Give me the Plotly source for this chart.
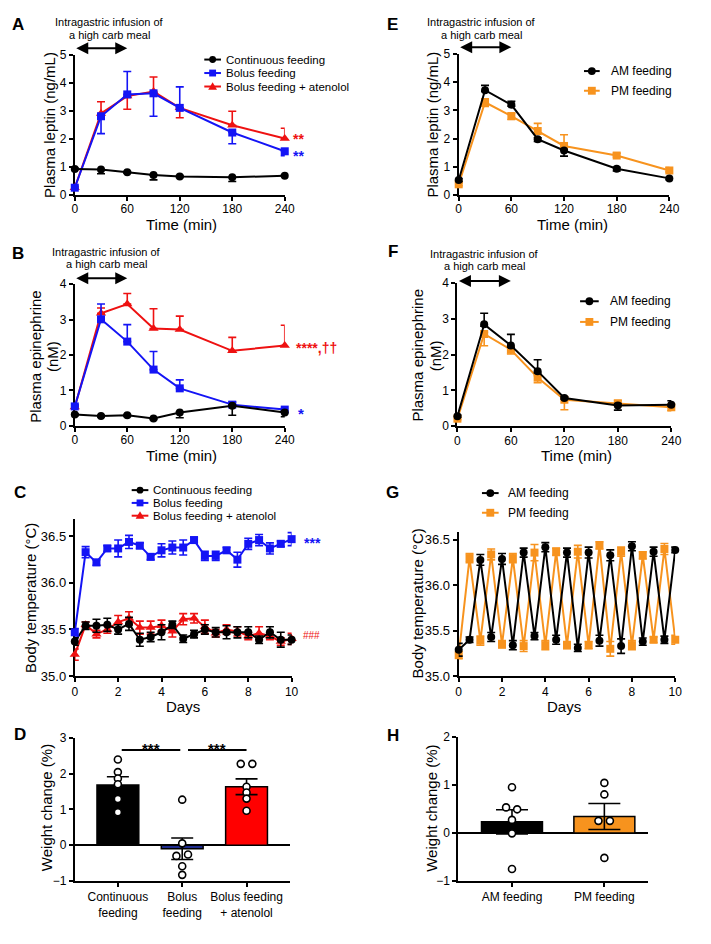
import plotly.graph_objects as go

# The page body keeps the browser's 8px margin; the figure sits at (8, 8) and is a bit
# smaller than the window so that the page never overflows.
OFF = 8
FW, FH = 690, 920
FONT = "Arial, Liberation Sans, Helvetica, sans-serif"
RED = '#EE1111'
BLUE = '#1414F5'
NAVY = '#1F2C8F'
ORANGE = '#F7931E'
BLACK = '#000000'

# ---------------- data ----------------
minutes = [0, 30, 60, 90, 120, 180, 240]

A_cont = [0.92, 0.90, 0.80, 0.70, 0.65, 0.62, 0.68]
A_cont_up = [0.03, 0.0, 0.03, 0.0, 0.03, 0.0, 0.03]
A_cont_dn = [0.03, 0.15, 0.03, 0.17, 0.03, 0.15, 0.03]
A_bolus = [0.25, 2.80, 3.58, 3.62, 3.10, 2.22, 1.55]
A_bolus_up = [0.05, 0.0, 0.82, 0.0, 0.75, 0.0, 0.0]
A_bolus_dn = [0.05, 0.62, 0.0, 0.82, 0.0, 0.40, 0.16]
A_aten = [0.25, 2.90, 3.52, 3.68, 3.10, 2.48, 2.01]
A_aten_up = [0.0, 0.42, 0.0, 0.52, 0.0, 0.50, 0.36]
A_aten_dn = [0.0, 0.0, 0.47, 0.0, 0.35, 0.0, 0.0]

B_cont = [0.32, 0.28, 0.30, 0.21, 0.38, 0.57, 0.38]
B_cont_up = [0.02, 0.02, 0.02, 0.02, 0.02, 0.02, 0.05]
B_cont_dn = [0.03, 0.03, 0.03, 0.03, 0.15, 0.27, 0.12]
B_bolus = [0.55, 3.01, 2.38, 1.59, 1.06, 0.60, 0.46]
B_bolus_up = [0.05, 0.43, 0.48, 0.51, 0.24, 0.07, 0.04]
B_bolus_dn = [0.0, 0.0, 0.0, 0.0, 0.0, 0.0, 0.0]
B_aten = [0.53, 3.18, 3.44, 2.75, 2.72, 2.12, 2.27]
B_aten_up = [0.05, 0.15, 0.30, 0.56, 0.38, 0.38, 0.57]
B_aten_dn = [0.0, 0.0, 0.0, 0.0, 0.0, 0.0, 0.0]

days = [0, 0.5, 1, 1.5, 2, 2.5, 3, 3.5, 4, 4.5, 5, 5.5, 6, 6.5, 7, 7.5, 8, 8.5, 9, 9.5, 10]
C_cont = [35.37, 35.54, 35.54, 35.55, 35.50, 35.56, 35.39, 35.42, 35.47, 35.55, 35.40,
          35.45, 35.50, 35.47, 35.47, 35.47, 35.47, 35.39, 35.47, 35.39, 35.39]
C_cont_err = [0.04, 0.04, 0.07, 0.07, 0.05, 0.07, 0.07, 0.05, 0.08, 0.04, 0.04,
              0.04, 0.05, 0.05, 0.07, 0.06, 0.06, 0.04, 0.06, 0.08, 0.05]
C_bolus = [35.47, 36.33, 36.22, 36.37, 36.37, 36.44, 36.40, 36.28, 36.35, 36.38, 36.38,
           36.46, 36.29, 36.29, 36.35, 36.25, 36.42, 36.46, 36.37, 36.42, 36.47]
C_bolus_err = [0.04, 0.06, 0.03, 0.03, 0.09, 0.07, 0.03, 0.03, 0.07, 0.07, 0.08,
               0.03, 0.05, 0.05, 0.03, 0.08, 0.06, 0.06, 0.06, 0.03, 0.07]
C_aten = [35.23, 35.55, 35.45, 35.50, 35.58, 35.62, 35.52, 35.52, 35.54, 35.48, 35.61,
          35.62, 35.53, 35.46, 35.50, 35.48, 35.43, 35.46, 35.43, 35.37, 35.40]
C_aten_err = [0.06, 0.03, 0.04, 0.04, 0.07, 0.07, 0.07, 0.07, 0.06, 0.06, 0.06,
              0.05, 0.07, 0.04, 0.05, 0.05, 0.04, 0.07, 0.04, 0.04, 0.06]

D_groups = ['Continuous<br>feeding', 'Bolus<br>feeding', 'Bolus feeding<br>+ atenolol']
D_means = [1.68, -0.10, 1.63]
D_sem = [0.23, 0.30, 0.22]
D_pts_cont = [2.39, 2.04, 1.86, 1.70, 1.29, 0.92]
D_pts_bolus = [1.27, 0.05, -0.30, -0.26, -0.59, -0.83]
D_pts_aten = [2.27, 2.27, 1.63, 1.47, 1.30, 0.96]
D_jit_cont = [0, 0, 0, 0, 0, 0]
D_jit_bolus = [0, 0, -0.09, 0.09, 0, 0]
D_jit_aten = [-0.09, 0.09, 0, 0, 0, 0]

E_am = [0.53, 3.72, 3.20, 1.98, 1.58, 0.93, 0.59]
E_am_up = [0.05, 0.17, 0.12, 0.05, 0.03, 0.05, 0.03]
E_am_dn = [0.05, 0.05, 0.05, 0.08, 0.20, 0.08, 0.05]
E_pm = [0.38, 3.29, 2.80, 2.27, 1.74, 1.40, 0.87]
E_pm_up = [0.05, 0.12, 0.10, 0.27, 0.40, 0.08, 0.10]
E_pm_dn = [0.05, 0.15, 0.12, 0.08, 0.05, 0.05, 0.05]

F_am = [0.28, 2.85, 2.26, 1.54, 0.79, 0.58, 0.60]
F_am_up = [0.03, 0.31, 0.31, 0.32, 0.03, 0.05, 0.11]
F_am_dn = [0.03, 0.05, 0.05, 0.05, 0.03, 0.13, 0.05]
F_pm = [0.21, 2.58, 2.14, 1.36, 0.74, 0.64, 0.53]
F_pm_up = [0.03, 0.05, 0.05, 0.05, 0.05, 0.08, 0.05]
F_pm_dn = [0.03, 0.33, 0.12, 0.14, 0.28, 0.06, 0.10]

G_am = [35.29, 35.40, 36.28, 35.43, 36.29, 35.34, 36.36, 35.44, 36.42, 35.40, 36.36,
        35.31, 36.36, 35.39, 36.33, 35.33, 36.43, 35.38, 36.37, 35.40, 36.39]
G_am_err = [0.07, 0.03, 0.06, 0.05, 0.06, 0.05, 0.05, 0.04, 0.05, 0.05, 0.05,
            0.04, 0.06, 0.06, 0.06, 0.08, 0.05, 0.04, 0.05, 0.04, 0.03]
G_pm = [35.23, 36.30, 35.39, 36.34, 35.35, 36.30, 35.33, 36.36, 35.34, 36.37, 35.34,
        36.37, 35.34, 36.44, 35.30, 36.37, 35.34, 36.33, 35.40, 36.40, 35.40]
G_pm_err = [0.04, 0.05, 0.05, 0.06, 0.04, 0.05, 0.06, 0.09, 0.05, 0.04, 0.04,
            0.07, 0.04, 0.04, 0.08, 0.05, 0.05, 0.04, 0.03, 0.06, 0.05]

H_groups = ['AM feeding', 'PM feeding']
H_means = [0.23, 0.34]
H_sem = [0.25, 0.27]
H_pts_am = [0.95, 0.53, 0.49, 0.27, -0.01, -0.75]
H_pts_pm = [1.04, 0.80, 0.25, 0.25, -0.52]
H_jit_am = [0, -0.064, 0.056, 0, 0, 0]
H_jit_pm = [0, 0, -0.064, 0.06, 0]


# ---------------- helpers (page pixel -> paper fraction) ----------------
def px(x):
    return (x - OFF) / FW


def py(y):
    return 1 - (y - OFF) / FH


fig = go.Figure()
shapes = []
annotations = []


def add_series(xa, ya, x, y, up, dn, color, symbol, size):
    fig.add_trace(go.Scatter(
        x=x, y=y, mode='lines+markers', xaxis=xa, yaxis=ya,
        line=dict(color=color, width=2),
        marker=dict(symbol=symbol, size=size, color=color),
        error_y=dict(type='data', symmetric=False, array=up, arrayminus=dn,
                     color=color, thickness=1.6, width=4),
        cliponaxis=False, showlegend=False))


def add_bars(xa, ya, means, sem, colors, width, capw):
    fig.add_trace(go.Bar(
        x=list(range(len(means))), y=means, xaxis=xa, yaxis=ya, width=width,
        marker=dict(color=colors, line=dict(color='black', width=1.5)),
        error_y=dict(type='data', array=sem, color='black', thickness=1.6, width=capw),
        showlegend=False))


def add_points(xa, ya, idx, vals, jit):
    fig.add_trace(go.Scatter(
        x=[idx + j for j in jit], y=vals, mode='markers', xaxis=xa, yaxis=ya,
        marker=dict(symbol='circle', size=7, color='white', line=dict(color='black', width=1.6)),
        cliponaxis=False, showlegend=False))


def text(t, x, y, size, bold=False, angle=0, anchor='center', color='black', xref='paper', yref='paper',
         yanchor='middle', xshift=0, yshift=0):
    annotations.append(dict(
        text=('<b>%s</b>' % t) if bold else t, x=x, y=y, xref=xref, yref=yref,
        xanchor=anchor, yanchor=yanchor, showarrow=False, textangle=angle,
        xshift=xshift, yshift=yshift,
        font=dict(family=FONT, size=size, color=color)))


def legend_entry(x0, x1, xt, y, color, symbol, label, fsize, msize):
    shapes.append(dict(type='line', xref='paper', yref='paper', x0=px(x0), x1=px(x1),
                       y0=py(y), y1=py(y), line=dict(color=color, width=2)))
    xm = (x0 + x1) / 2.0
    r = msize / 2.0
    if symbol == 'circle':
        shapes.append(dict(type='circle', xref='paper', yref='paper', x0=px(xm - r), x1=px(xm + r),
                           y0=py(y + r), y1=py(y - r), fillcolor=color, line=dict(color=color, width=0)))
    elif symbol == 'square':
        shapes.append(dict(type='rect', xref='paper', yref='paper', x0=px(xm - r), x1=px(xm + r),
                           y0=py(y + r), y1=py(y - r), fillcolor=color, line=dict(color=color, width=0)))
    else:
        path = 'M %f,%f L %f,%f L %f,%f Z' % (px(xm - r - 0.5), py(y + r * 0.8), px(xm + r + 0.5), py(y + r * 0.8),
                                             px(xm), py(y - r * 1.1))
        shapes.append(dict(type='path', xref='paper', yref='paper', path=path,
                           fillcolor=color, line=dict(color=color, width=0)))
    text(label, px(xt), py(y), fsize, anchor='left')


def infusion(xref, y_px, tx, ty):
    text('Intragastric infusion of', px(tx), py(ty - 6.5), 11)
    text('a high carb meal', px(tx), py(ty + 6.5), 11)
    annotations.append(dict(x=60, y=py(y_px), xref=xref, yref='paper', ax=0, ay=0,
                            axref=xref, ayref='pixel', text='', showarrow=True,
                            arrowhead=2, arrowside='end+start', arrowsize=1.2, arrowwidth=2,
                            arrowcolor='black', standoff=0, startstandoff=0))


axis_common = dict(showline=True, linecolor='black', linewidth=2, ticks='outside', ticklen=4,
                   tickwidth=2, tickcolor='black', showgrid=False, zeroline=False,
                   tickfont=dict(family=FONT, size=12, color='black'), layer='below traces')

layout = dict(width=FW, height=FH, margin=dict(l=0, r=0, t=0, b=0),
              paper_bgcolor='white', plot_bgcolor='white', showlegend=False,
              font=dict(family=FONT, color='black'))


def set_axes(n, xdom, ydom, xrange, yrange, xkw=None, ykw=None):
    xs = '' if n == 1 else str(n)
    xa = dict(axis_common, domain=[px(xdom[0]), px(xdom[1])], range=xrange, anchor='y' + xs)
    ya = dict(axis_common, domain=[py(ydom[0]), py(ydom[1])], range=yrange, anchor='x' + xs)
    if xkw:
        xa.update(xkw)
    if ykw:
        ya.update(ykw)
    layout['xaxis' + xs] = xa
    layout['yaxis' + xs] = ya


time_ticks = dict(tickvals=[0, 60, 120, 180, 240])
day_ticks = dict(tickvals=[0, 2, 4, 6, 8, 10])
temp_ticks = dict(tickvals=[35.0, 35.5, 36.0, 36.5], tickformat='.1f', tickfont=dict(family=FONT, size=13, color='black'))

set_axes(1, (73, 287), (190.7, 48.3), [0, 240], [0, 5], time_ticks, dict(dtick=1))
set_axes(2, (73, 287), (425.7, 281.7), [0, 240], [0, 4], time_ticks, dict(dtick=1))
set_axes(3, (73, 294), (680, 520), [0, 10], [35, 36.69], day_ticks, temp_ticks)
set_axes(4, (73, 292), (888.3, 742.7), [-0.67, 2.67], [-1, 3],
         dict(tickvals=[0, 1, 2], ticktext=D_groups, tickfont=dict(family=FONT, size=12, color='black'), layer='above traces'),
         dict(dtick=1, zeroline=True, zerolinecolor='black', zerolinewidth=2, layer='above traces'))
set_axes(5, (464.3, 679), (191, 47.7), [0, 240], [0, 5], time_ticks, dict(dtick=1))
set_axes(6, (463, 681), (426, 280.7), [0, 240], [0, 4], time_ticks, dict(dtick=1))
set_axes(7, (464.3, 685), (680, 533.3), [0, 10], [35, 36.59], day_ticks, temp_ticks)
set_axes(8, (464, 657), (888.3, 741.7), [-0.58, 1.47], [-1, 2],
         dict(tickvals=[0, 1], ticktext=H_groups, tickfont=dict(family=FONT, size=12, color='black'), layer='above traces'),
         dict(dtick=1, zeroline=True, zerolinecolor='black', zerolinewidth=2, layer='above traces'))

# ---------------- traces ----------------
# A
add_series('x', 'y', minutes, A_aten, A_aten_up, A_aten_dn, RED, 'triangle-up', 9)
add_series('x', 'y', minutes, A_bolus, A_bolus_up, A_bolus_dn, BLUE, 'square', 8)
add_series('x', 'y', minutes, A_cont, A_cont_up, A_cont_dn, BLACK, 'circle', 8)
# B
add_series('x2', 'y2', minutes, B_aten, B_aten_up, B_aten_dn, RED, 'triangle-up', 9)
add_series('x2', 'y2', minutes, B_bolus, B_bolus_up, B_bolus_dn, BLUE, 'square', 8)
add_series('x2', 'y2', minutes, B_cont, B_cont_up, B_cont_dn, BLACK, 'circle', 8)
# C
add_series('x3', 'y3', days, C_aten, C_aten_err, C_aten_err, RED, 'triangle-up', 9)
add_series('x3', 'y3', days, C_cont, C_cont_err, C_cont_err, BLACK, 'circle', 8)
add_series('x3', 'y3', days, C_bolus, C_bolus_err, C_bolus_err, BLUE, 'square', 8)
# D
add_bars('x4', 'y4', D_means, D_sem, [BLACK, NAVY, '#FF0000'], 0.65, 11)
add_points('x4', 'y4', 0, D_pts_cont, D_jit_cont)
add_points('x4', 'y4', 1, D_pts_bolus, D_jit_bolus)
add_points('x4', 'y4', 2, D_pts_aten, D_jit_aten)
# E
add_series('x5', 'y5', minutes, E_pm, E_pm_up, E_pm_dn, ORANGE, 'square', 8)
add_series('x5', 'y5', minutes, E_am, E_am_up, E_am_dn, BLACK, 'circle', 8)
# F
add_series('x6', 'y6', minutes, F_pm, F_pm_up, F_pm_dn, ORANGE, 'square', 8)
add_series('x6', 'y6', minutes, F_am, F_am_up, F_am_dn, BLACK, 'circle', 8)
# G
add_series('x7', 'y7', days, G_pm, G_pm_err, G_pm_err, ORANGE, 'square', 8)
add_series('x7', 'y7', days, G_am, G_am_err, G_am_err, BLACK, 'circle', 8)
# H
add_bars('x8', 'y8', H_means, H_sem, [BLACK, ORANGE], 0.66, 16)
add_points('x8', 'y8', 0, H_pts_am, H_jit_am)
add_points('x8', 'y8', 1, H_pts_pm, H_jit_pm)

# ---------------- text / decorations ----------------
for lab, x, y in [('A', 15, 18), ('B', 15, 250), ('C', 17, 493), ('D', 17, 739),
                  ('E', 397, 18), ('F', 397, 248), ('G', 397, 493), ('H', 397, 740)]:
    text(lab, px(x), py(y), 17, bold=True)

infusion('x', 41.7, 108, 22)
infusion('x2', 275.7, 105.5, 255)
infusion('x5', 40.7, 487.5, 22)
infusion('x6', 278.3, 491, 257)

# axis titles
text('Plasma leptin (ng/mL)', px(47), py(119.5), 15, angle=-90)
text('Time (min)', px(182), py(221), 15)
text('Plasma epinephrine', px(33), py(355), 15, angle=-90)
text('(nM)', px(50.5), py(355), 15, angle=-90)
text('Time (min)', px(182), py(456), 15)
text('Body temperature (°C)', px(28), py(601), 15, angle=-90)
text('Days', px(183), py(711), 15)
text('Weight change (%)', px(45), py(814), 15, angle=-90)

text('Plasma leptin (ng/mL)', px(438), py(119.5), 15, angle=-90)
text('Time (min)', px(580), py(221), 15)
text('Plasma epinephrine', px(422), py(354), 15, angle=-90)
text('(nM)', px(440), py(354), 15, angle=-90)
text('Time (min)', px(584), py(456), 15)
text('Body temperature (°C)', px(422), py(606), 15, angle=-90)
text('Days', px(572), py(711), 15)
text('Weight change (%)', px(437), py(814), 15, angle=-90)

# legends
legend_entry(205, 222, 225, 53.3, BLACK, 'circle', 'Continuous feeding', 11.5, 7)
legend_entry(205, 222, 225, 67, BLUE, 'square', 'Bolus feeding', 11.5, 7)
legend_entry(205, 222, 225, 80.7, RED, 'triangle', 'Bolus feeding + atenolol', 11.5, 8)

legend_entry(131, 148, 150.5, 491, BLACK, 'circle', 'Continuous feeding', 11.5, 7)
legend_entry(131, 148, 150.5, 504, BLUE, 'square', 'Bolus feeding', 11.5, 7)
legend_entry(131, 148, 150.5, 517, RED, 'triangle', 'Bolus feeding + atenolol', 11.5, 8)

legend_entry(592, 608, 617, 65, BLACK, 'circle', 'AM feeding', 12, 8)
legend_entry(592, 608, 617, 85, ORANGE, 'square', 'PM feeding', 12, 8)
legend_entry(588, 607, 616, 299, BLACK, 'circle', 'AM feeding', 12, 8)
legend_entry(588, 607, 616, 320, ORANGE, 'square', 'PM feeding', 12, 8)
legend_entry(488, 505, 513, 494, BLACK, 'circle', 'AM feeding', 12, 8)
legend_entry(488, 505, 513, 514, ORANGE, 'square', 'PM feeding', 12, 8)

# significance marks
text('**', 240, A_aten[-1], 14, bold=True, anchor='left', color=RED, xref='x', yref='y', xshift=6, yshift=-1)
text('**', 240, A_bolus[-1], 14, bold=True, anchor='left', color=BLUE, xref='x', yref='y', xshift=6, yshift=-5)
text('****,††', 240, B_aten[-1], 14, bold=True, anchor='left', color=RED, xref='x2', yref='y2', xshift=9, yshift=-3)
text('*', 240, B_bolus[-1], 15, bold=True, anchor='left', color=BLUE, xref='x2', yref='y2', xshift=11, yshift=-4)
text('***', 10, C_bolus[-1], 14, bold=True, anchor='left', color=BLUE, xref='x3', yref='y3', xshift=10, yshift=-4)
text('###', 10, C_aten[-1] + 0.04, 10, anchor='left', color=RED, xref='x3', yref='y3', xshift=9)

for x0, x1 in [(0.06, 0.97), (1.09, 2.0)]:
    shapes.append(dict(type='line', xref='x4', yref='y4', x0=x0, x1=x1, y0=2.66, y1=2.66,
                       line=dict(color='black', width=2)))
    text('***', (x0 + x1) / 2, 2.82, 15, bold=True, xref='x4', yref='y4', yshift=-4)

layout['shapes'] = shapes
layout['annotations'] = annotations
fig.update_layout(**layout)

# pull the time-axis tick labels a little closer to the axis line, as in the reference
try:
    fig.update_layout(xaxis_ticklabelstandoff=-2, xaxis2_ticklabelstandoff=-2,
                      xaxis5_ticklabelstandoff=-2, xaxis6_ticklabelstandoff=-2)
except ValueError:
    pass

fig.write_html('out.html', config={'displayModeBar': False, 'staticPlot': True})
